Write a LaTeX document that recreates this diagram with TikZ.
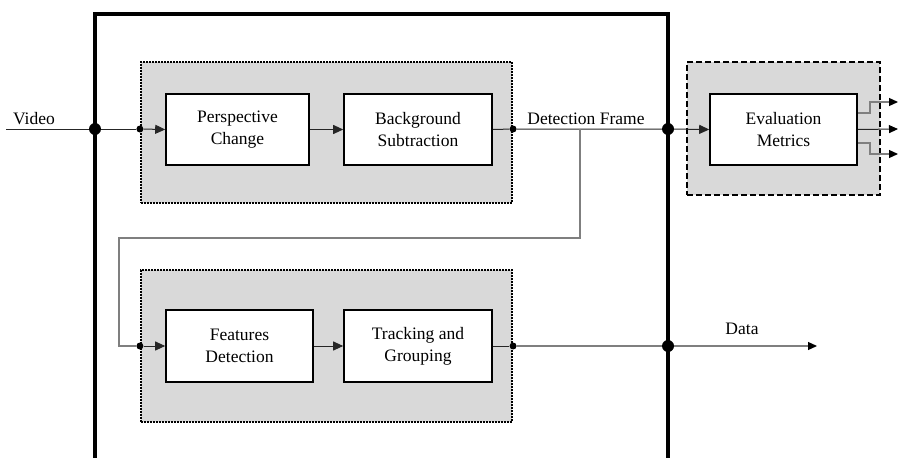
\documentclass[tikz,border=0pt]{standalone}
\usepackage{fontspec}
\setmainfont{Liberation Serif}
\usepackage{xcolor}
\usetikzlibrary{arrows.meta}
\definecolor{groupgray}{HTML}{D9D9D9}
\definecolor{wiregray}{HTML}{7F7F7F}
\tikzstyle{procbox} = [draw=black, fill=white, line width=1.6pt,
rectangle, align=center, minimum height=71pt, inner sep=0pt,
font=\rmfamily\fontsize{17.5}{22}\selectfont]
\tikzstyle{groupbox} = [draw=black, fill=groupgray, line width=2.2pt,
rectangle, dash pattern=on 1.6pt off 1.4pt, inner sep=0pt]
\tikzstyle{evalbox} = [draw=black, fill=groupgray, line width=2.2pt,
rectangle, dash pattern=on 6pt off 3pt, inner sep=0pt]
\tikzstyle{wire} = [draw=black!85, line width=1pt]
\tikzstyle{graywire} = [draw=wiregray, line width=1.2pt]
\tikzstyle{flow} = [wire, -{Triangle[length=10pt,width=9pt]}]
\tikzstyle{outflow} = [-{Triangle[length=9pt,width=8pt,color=black]}]
\tikzstyle{bigdot} = [fill=black, circle, inner sep=0pt, minimum size=12pt]
\tikzstyle{smalldot} = [fill=black, circle, inner sep=0pt, minimum size=7pt]
\tikzstyle{lbl} = [font=\rmfamily\fontsize{17.5}{22}\selectfont, inner sep=0pt]

\begin{document}
\begin{tikzpicture}[x=1pt, y=-1pt]
        \useasboundingbox (0,0) rectangle (898,458);
        % groups
        \node [groupbox, minimum width=371pt, minimum height=141pt] (detgroup) at (326.5,132.5) {};
        \node [groupbox, minimum width=371pt, minimum height=152pt] (trackgroup) at (326.5,346) {};
        \node [evalbox, minimum width=193pt, minimum height=133pt] (evalgroup) at (783.5,128.5) {};
        % outer frame
        \draw [line width=4pt] (95,458) -- (95,14) -- (668,14) -- (668,458);
        % blocks
        \node [procbox, minimum width=143pt] (persp) at (237.5,129.5) {Perspective\\Change};
        \node [procbox, minimum width=148pt] (bgsub) at (418,129.5) {Background\\Subtraction};
        \node [procbox, minimum width=147pt, minimum height=72pt] (featdet) at (239.5,346) {Features\\Detection};
        \node [procbox, minimum width=148pt, minimum height=72pt] (tracking) at (418,346) {Tracking and\\Grouping};
        \node [procbox, minimum width=147pt] (evalm) at (783.5,129.5) {Evaluation\\Metrics};
        % points
        \coordinate (vin) at (6,129);
        \node [bigdot] (inL) at (95,129) {};
        \node [smalldot] (detin) at (detgroup.west |- vin) {};
        \node [smalldot] (detout) at (detgroup.east |- vin) {};
        \node [bigdot] (inR) at (668,129) {};
        \coordinate (split) at (580,129);
        \node [smalldot] (trackin) at (trackgroup.west |- featdet) {};
        \node [smalldot] (trackout) at (trackgroup.east |- tracking) {};
        \node [bigdot] (outR) at (668,346) {};
        \coordinate (dataend) at (817,346);
        % wires
        \draw [wire] (vin) -- (inL) -- (detin);
        \draw [flow] (detin) -- (persp.west);
        \draw [flow] (persp.east) -- (bgsub.west);
        \draw [wire] (bgsub.east) -- (detout) -- (inR);
        \draw [flow] (inR) -- (evalm.west);
        \draw [graywire] (split) -- (580,238) -- (119,238) |- (trackin);
        \draw [flow] (trackin) -- (featdet.west);
        \draw [flow] (featdet.east) -- (tracking.west);
        \draw [wire] (tracking.east) -- (trackout);
        \draw [graywire] (trackout) -- (outR);
        \draw [graywire, outflow] (outR) -- (dataend);
        % metric outputs
        \draw [graywire, outflow] (evalm.east |- 0,113) -- (870,113) -- (870,102) -- (898,102);
        \draw [wire, outflow] (evalm.east) -- (898,129);
        \draw [graywire, outflow] (evalm.east |- 0,143) -- (870,143) -- (870,154) -- (898,154);
        % labels
        \node [lbl] (videolbl) at (34,119) {Video};
        \node [lbl] (framelbl) at (586,119) {Detection Frame};
        \node [lbl] (datalbl) at (742,329) {Data};
    \end{tikzpicture}
\end{document}
